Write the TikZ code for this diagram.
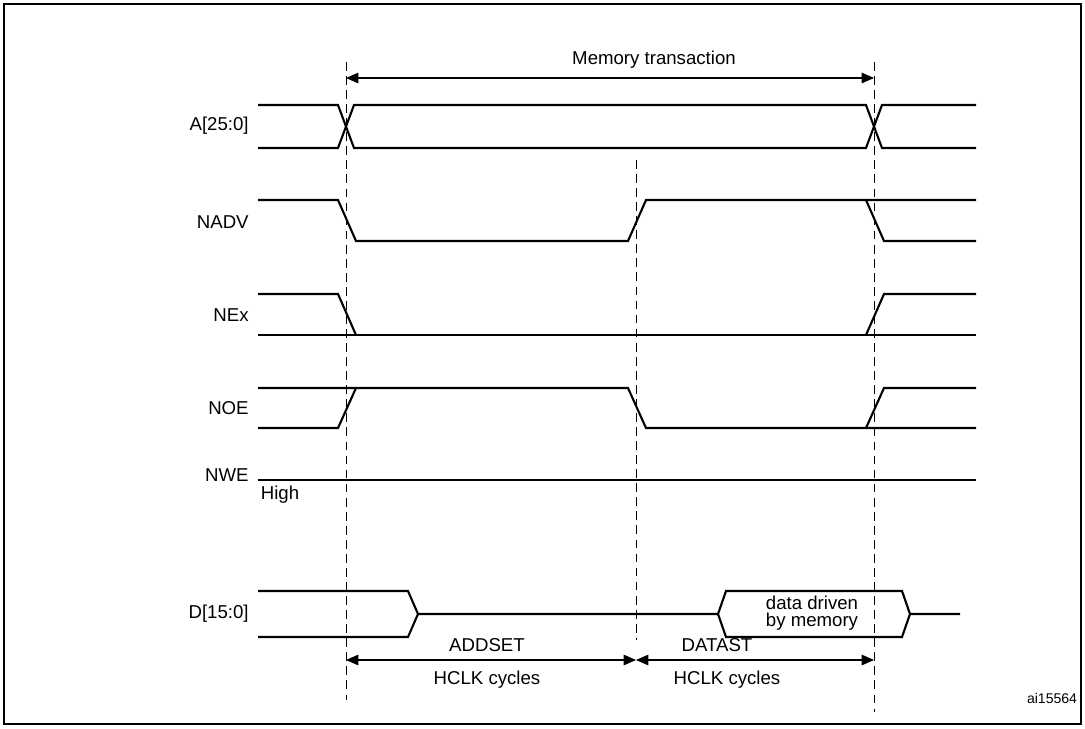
\documentclass[tikz,border=0pt]{standalone}
\usepackage{fontspec}
\setmainfont{Liberation Sans}
\usetikzlibrary{arrows.meta}

\begin{document}
\begin{tikzpicture}[x=0.02cm, y=-0.02cm,
    sig/.style={line width=1.2pt},
    guide/.style={dashed, line width=0.5pt, dash pattern=on 5pt off 3pt},
    span/.style={{Triangle[length=7pt,width=6pt]}-{Triangle[length=7pt,width=6pt]}, line width=0.6pt},
    lbl/.style={anchor=east, inner sep=0pt, font=\fontsize{10.6}{12.5}\selectfont},
    txt/.style={inner sep=0pt, font=\fontsize{10.6}{12.5}\selectfont}]
  \useasboundingbox (0,0) rectangle (1085,728);
  \draw[line width=0.6pt] (4,4) rectangle (1081,724);

  % time marks
  \coordinate (t1) at (346,62);
  \coordinate (t2) at (636,160);
  \coordinate (t3) at (874,62);
  \draw[guide] (t1) -- (346,700);
  \draw[guide] (t2) -- (636,640);
  \draw[guide] (t3) -- (874,712);

  % memory transaction
  \coordinate (m1) at (346,78);
  \coordinate (m3) at (874,78);
  \draw[span] (m1) -- (m3);
  \node[txt] (mem) at (654,60) {Memory transaction};

  % A[25:0]
  \node[lbl] (la) at (249,126) {A[25:0]};
  \draw[sig] (258,105) -- (338,105) -- (354,148) -- (866,148) -- (882,105) -- (976,105);
  \draw[sig] (258,148) -- (338,148) -- (354,105) -- (866,105) -- (882,148) -- (976,148);

  % NADV
  \node[lbl] (lnadv) at (249,222) {NADV};
  \draw[sig] (258,200) -- (338,200) -- (356,241) -- (628,241) -- (646,200) -- (976,200);
  \draw[sig] (866,200) -- (884,241) -- (976,241);

  % NEx
  \node[lbl] (lnex) at (249,315) {NEx};
  \draw[sig] (258,294) -- (338,294) -- (356,335);
  \draw[sig] (258,335) -- (976,335);
  \draw[sig] (866,335) -- (884,294) -- (976,294);

  % NOE
  \node[lbl] (lnoe) at (249,408) {NOE};
  \draw[sig] (258,428) -- (338,428) -- (356,388);
  \draw[sig] (258,388) -- (628,388) -- (646,428) -- (976,428);
  \draw[sig] (866,428) -- (884,388) -- (976,388);

  % NWE
  \node[lbl] (lnwe) at (249,475) {NWE};
  \draw[sig] (258,480) -- (976,480);
  \node[txt] (high) at (280,495) {High};

  % D[15:0]
  \node[lbl] (ld) at (249,614) {D[15:0]};
  \draw[sig] (258,591) -- (408,591) -- (418,614) -- (718,614) -- (726,591) -- (902,591) -- (910,614) -- (960,614);
  \draw[sig] (258,637) -- (408,637) -- (418,614);
  \draw[sig] (718,614) -- (726,637) -- (902,637) -- (910,614);
  \node[txt] (data1) at (812,603) {data driven};
  \node[txt] (data2) at (812,622) {by memory};

  % setup / data phases
  \coordinate (a1) at (346,660);
  \coordinate (a2) at (636,660);
  \coordinate (a3) at (874,660);
  \draw[span] (a1) -- (a2);
  \draw[span] (a2) -- (a3);
  \node[txt] (addset) at (487,645) {ADDSET};
  \node[txt] (hclk1) at (487,680) {HCLK cycles};
  \node[txt] (datast) at (717,645) {DATAST};
  \node[txt] (hclk2) at (727,680) {HCLK cycles};

  \node[txt, font=\fontsize{8}{9}\selectfont] (ref) at (1052,698) {ai15564};
\end{tikzpicture}
\end{document}
